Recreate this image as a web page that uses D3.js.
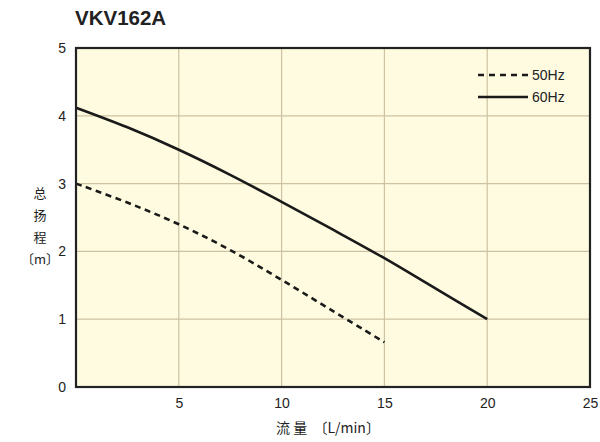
<!DOCTYPE html>
<html>
<head>
<meta charset="utf-8">
<script src="https://cdn.jsdelivr.net/npm/d3@7"></script>
<style>
  body { margin: 0; background: #fff; }
  svg text { font-family: "Liberation Sans", Arial, sans-serif; fill: #222; }
  .cjk { font-family: "Noto Sans CJK SC", sans-serif; }
</style>
</head>
<body>
<div id="chart"></div>
<script>
// Head curves
const flow50 = [0, 2.5, 5, 7.5, 10, 12.5, 15];
const head50 = [3.0, 2.72, 2.40, 2.02, 1.58, 1.12, 0.66];
const flow60 = [0, 2.5, 5, 7.5, 10, 12.5, 15, 17.5, 20];
const head60 = [4.12, 3.83, 3.50, 3.13, 2.73, 2.32, 1.90, 1.45, 1.0];
const xTicks = [5, 10, 15, 20, 25];
const yTicks = [0, 1, 2, 3, 4, 5];
const seriesNames = ["50Hz", "60Hz"];

const W = 600, H = 442;
const margin = { top: 48, right: 10, bottom: 55, left: 76 };
const width = W - margin.left - margin.right;
const height = H - margin.top - margin.bottom;

const svg = d3.select("#chart").append("svg")
    .attr("width", W)
    .attr("height", H);

const g = svg.append("g")
    .attr("transform", `translate(${margin.left},${margin.top})`);

const x = d3.scaleLinear().domain([0, 25]).range([0, width]);
const y = d3.scaleLinear().domain([0, 5]).range([height, 0]);

// background
g.append("rect")
    .attr("width", width)
    .attr("height", height)
    .attr("fill", "#fefbe0");

// grid
g.append("g").selectAll("line")
    .data(xTicks.filter(d => d < 25))
    .join("line")
    .attr("x1", d => x(d)).attr("x2", d => x(d))
    .attr("y1", 0).attr("y2", height)
    .attr("stroke", "#cdc3a3").attr("stroke-width", 1.2);

g.append("g").selectAll("line")
    .data(yTicks.filter(d => d > 0 && d < 5))
    .join("line")
    .attr("y1", d => y(d)).attr("y2", d => y(d))
    .attr("x1", 0).attr("x2", width)
    .attr("stroke", "#cdc3a3").attr("stroke-width", 1.2);

// axes labels (no tick marks)
const xAxis = g.append("g")
    .attr("transform", `translate(0,${height})`)
    .call(d3.axisBottom(x).tickValues(xTicks).tickFormat(d3.format("d")).tickSize(0).tickPadding(11));
xAxis.select(".domain").remove();
xAxis.selectAll("text").attr("font-size", 14).attr("fill", "#222")
    .attr("font-family", "Liberation Sans, Arial, sans-serif");

const yAxis = g.append("g")
    .call(d3.axisLeft(y).tickValues(yTicks).tickFormat(d3.format("d")).tickSize(0).tickPadding(10));
yAxis.select(".domain").remove();
yAxis.selectAll("text").attr("font-size", 14).attr("fill", "#222")
    .attr("font-family", "Liberation Sans, Arial, sans-serif");

// curves
const line = d3.line()
    .x(d => x(d[0]))
    .y(d => y(d[1]))
    .curve(d3.curveCatmullRom);

g.append("path")
    .datum(d3.zip(flow50, head50))
    .attr("fill", "none")
    .attr("stroke", "#1a1a1a")
    .attr("stroke-width", 2.6)
    .attr("stroke-dasharray", "6,4.5")
    .attr("d", line);

g.append("path")
    .datum(d3.zip(flow60, head60))
    .attr("fill", "none")
    .attr("stroke", "#1a1a1a")
    .attr("stroke-width", 2.6)
    .attr("d", line);

// frame
g.append("rect")
    .attr("width", width)
    .attr("height", height)
    .attr("fill", "none")
    .attr("stroke", "#222")
    .attr("stroke-width", 2.2);

// legend
const legend = g.append("g").attr("transform", `translate(${width - 112},27)`);
seriesNames.forEach((name, i) => {
    const row = legend.append("g").attr("transform", `translate(0,${i * 22})`);
    row.append("line")
        .attr("x1", 0).attr("x2", 50)
        .attr("stroke", "#1a1a1a")
        .attr("stroke-width", 2.6)
        .attr("stroke-dasharray", i === 0 ? "6,5" : null);
    row.append("text")
        .attr("x", 54).attr("dy", "0.35em")
        .attr("font-size", 14)
        .text(name);
});

// title
svg.append("text")
    .attr("x", 75).attr("y", 25)
    .attr("font-size", 20.5)
    .attr("font-weight", "bold")
    .text("VKV162A");

// x axis title
svg.append("text")
    .attr("class", "cjk")
    .attr("x", 328).attr("y", 433)
    .attr("text-anchor", "middle")
    .attr("font-size", 14)
    .attr("xml:space", "preserve")
    .style("white-space", "pre")
    .text("流 量  〔L/min〕");

// y axis title, stacked characters
const yTitle = ["总", "扬", "程", "〔m〕"];
svg.append("g").selectAll("text")
    .data(yTitle)
    .join("text")
    .attr("class", "cjk")
    .attr("x", 40)
    .attr("y", (d, i) => 198 + i * 22)
    .attr("text-anchor", "middle")
    .attr("font-size", 13)
    .text(d => d);
</script>
</body>
</html>
